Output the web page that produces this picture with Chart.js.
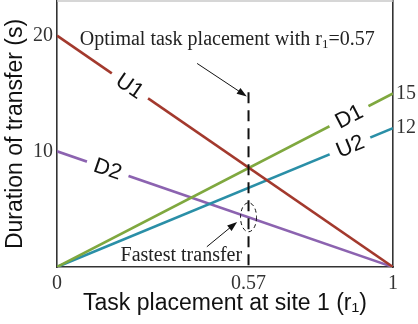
<!DOCTYPE html>
<html lang="en">
<head>
<meta charset="UTF-8" />
<title>Duration of transfer vs task placement</title>
<style>
  body { margin: 0; background: #fff; }
  canvas { display: block; }
</style>
</head>
<body>
<canvas id="chart" width="418" height="324"></canvas>
<script src="https://cdn.jsdelivr.net/npm/chart.js"></script>
<script>
  // task placement at site 1 (r1), the two ends of every line
  const r1 = [0, 1];
  const U1 = [20, 0];
  const D1 = [0, 15];
  const U2 = [0, 12];
  const D2 = [10, 0];

  const seriesNames = ['U1', 'D1', 'U2', 'D2'];
  const seriesColors = ['#a3392d', '#7fa83f', '#2a8fa7', '#8c63b0'];
  const labelAt = [0.217, 0.869, 0.872, 0.151]; // where the inline names sit (r1)

  const xTicks = [0, 0.57, 1];
  const yTicksLeft = [10, 20];
  const yTicksRight = [15, 12];

  const optimalR = 0.57;
  const optimalTop = 15.1;

  const serif = "'Liberation Serif', 'Times New Roman', serif";
  const sans = "'Liberation Sans', Arial, sans-serif";

  const series = [U1, D1, U2, D2];
  const pts = v => r1.map((x, i) => ({ x: x, y: v[i] }));

  const datasets = [{
    label: 'optimal',
    data: [{ x: optimalR, y: optimalTop }, { x: optimalR, y: 0 }],
    borderColor: '#111',
    borderWidth: 2,
    borderDash: [11, 7],
    pointRadius: 0
  }];
  series.forEach((v, i) => {
    datasets.push({
      label: seriesNames[i],
      data: pts(v),
      borderColor: seriesColors[i],
      borderWidth: 2.6,
      pointRadius: 0,
      tension: 0
    });
  });

  function arrow(ctx, x0, y0, x1, y1) {
    const a = Math.atan2(y1 - y0, x1 - x0);
    ctx.save();
    ctx.strokeStyle = '#111';
    ctx.fillStyle = '#111';
    ctx.lineWidth = 1;
    ctx.beginPath();
    ctx.moveTo(x0, y0);
    ctx.lineTo(x1 - 6 * Math.cos(a), y1 - 6 * Math.sin(a));
    ctx.stroke();
    ctx.translate(x1, y1);
    ctx.rotate(a);
    ctx.beginPath();
    ctx.moveTo(0, 0);
    ctx.lineTo(-10, -3.5);
    ctx.lineTo(-10, 3.5);
    ctx.closePath();
    ctx.fill();
    ctx.restore();
  }

  const annotations = {
    id: 'annotations',
    afterDatasetsDraw(chart) {
      const ctx = chart.ctx;
      const xs = chart.scales.x, ys = chart.scales.y;
      const area = chart.chartArea;

      // light top edge of the box
      ctx.save();
      ctx.strokeStyle = '#c8c8c8';
      ctx.lineWidth = 1.5;
      ctx.beginPath();
      ctx.moveTo(area.left, area.top);
      ctx.lineTo(area.right, area.top);
      ctx.stroke();
      ctx.restore();

      // names written into the lines
      series.forEach((v, i) => {
        const px0 = xs.getPixelForValue(r1[0]), py0 = ys.getPixelForValue(v[0]);
        const px1 = xs.getPixelForValue(r1[1]), py1 = ys.getPixelForValue(v[1]);
        const t = labelAt[i];
        const cx = xs.getPixelForValue(t);
        const cy = ys.getPixelForValue(v[0] + (v[1] - v[0]) * t);
        ctx.save();
        ctx.translate(cx, cy);
        ctx.rotate(Math.atan2(py1 - py0, px1 - px0));
        ctx.fillStyle = '#fff';
        ctx.fillRect(-22, -11, 44, 22);
        ctx.fillStyle = '#111';
        ctx.font = '22px ' + sans;
        ctx.textAlign = 'center';
        ctx.textBaseline = 'middle';
        ctx.fillText(seriesNames[i], 0, 1);
        ctx.restore();
      });

      // fastest transfer ellipse
      const ex = xs.getPixelForValue(optimalR);
      const ey = ys.getPixelForValue(D2[0] + (D2[1] - D2[0]) * optimalR);
      ctx.save();
      ctx.strokeStyle = '#111';
      ctx.lineWidth = 1;
      ctx.setLineDash([4, 3]);
      ctx.beginPath();
      ctx.ellipse(ex, ey, 8, 14.5, 0, 0, Math.PI * 2);
      ctx.stroke();
      ctx.restore();

      // arrows
      arrow(ctx, xs.getPixelForValue(0.417), ys.getPixelForValue(17.6),
                 xs.getPixelForValue(0.565), ys.getPixelForValue(14.75));
      arrow(ctx, xs.getPixelForValue(0.446), ys.getPixelForValue(1.75),
                 xs.getPixelForValue(0.536), ys.getPixelForValue(3.9));

      // texts
      ctx.save();
      ctx.fillStyle = '#222';
      ctx.textBaseline = 'alphabetic';
      ctx.font = '20px ' + serif;
      let tx = xs.getPixelForValue(0.068);
      const ty = ys.getPixelForValue(19.2);
      const part1 = 'Optimal task placement with r';
      ctx.fillText(part1, tx, ty);
      tx += ctx.measureText(part1).width;
      ctx.font = '13px ' + serif;
      ctx.fillText('1', tx, ty + 3);
      tx += ctx.measureText('1').width;
      ctx.font = '20px ' + serif;
      ctx.fillText('=0.57', tx, ty);

      ctx.textAlign = 'right';
      ctx.fillText('Fastest transfer', xs.getPixelForValue(0.551), ys.getPixelForValue(0.5));
      ctx.restore();
    }
  };

  const axisBorder = { display: true, color: '#333', width: 1.6 };
  const tickFont = { family: serif, size: 20 };
  const noGrid = { display: false, drawTicks: false, tickLength: 0 };

  new Chart(document.getElementById('chart'), {
    type: 'line',
    data: { datasets: datasets },
    options: {
      responsive: false,
      animation: false,
      devicePixelRatio: 1,
      layout: { padding: { top: 1 } },
      plugins: { legend: { display: false }, tooltip: { enabled: false } },
      scales: {
        x: {
          type: 'linear', min: 0, max: 1, position: 'bottom',
          grid: noGrid,
          border: axisBorder,
          afterBuildTicks: s => { s.ticks = xTicks.map(v => ({ value: v })); },
          afterFit: s => { s.height = 57; s.paddingLeft = 0; s.paddingRight = 0; },
          ticks: { font: tickFont, color: '#333', padding: 5, callback: v => String(v), maxRotation: 0, autoSkip: false },
          title: { display: true, text: 'Task placement at site 1 (r\u2081)', font: { family: sans, size: 23 }, color: '#111', padding: { top: 0, bottom: 7 } }
        },
        y: {
          type: 'linear', min: 0, max: 23, position: 'left',
          grid: noGrid,
          border: axisBorder,
          afterBuildTicks: s => { s.ticks = yTicksLeft.map(v => ({ value: v })); },
          afterFit: s => { s.width = 57; s.paddingTop = 0; s.paddingBottom = 0; },
          ticks: { font: tickFont, color: '#333', padding: 4, callback: v => String(v), autoSkip: false },
          title: { display: true, text: 'Duration of transfer (s)', font: { family: sans, size: 23 }, color: '#111', padding: { top: 2, bottom: 0 } }
        },
        y2: {
          type: 'linear', min: 0, max: 23, position: 'right',
          grid: noGrid,
          border: axisBorder,
          afterBuildTicks: s => { s.ticks = yTicksRight.map(v => ({ value: v })); },
          afterFit: s => { s.width = 25; s.paddingTop = 0; s.paddingBottom = 0; },
          ticks: { font: tickFont, color: '#333', padding: 3, callback: v => String(v), autoSkip: false }
        }
      }
    },
    plugins: [annotations]
  });
</script>
</body>
</html>
